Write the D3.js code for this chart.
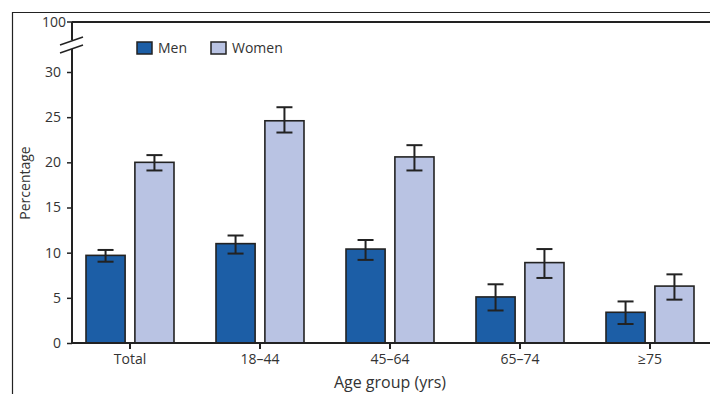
<!DOCTYPE html>
<html><head><meta charset="utf-8">
<script src="https://cdn.jsdelivr.net/npm/d3@7"></script>
<style>body{margin:0;background:#fff;} svg{display:block;font-family:"Open Sans",sans-serif;}</style>
</head><body>
<svg id="c" width="710" height="394"></svg>
<script>
const categories = ["Total", "18–44", "45–64", "65–74", "≥75"];
const seriesNames = ["Men", "Women"];
const menValues = [9.7, 11.0, 10.4, 5.1, 3.4];
const menLower = [9.0, 9.9, 9.2, 3.6, 2.1];
const menUpper = [10.3, 11.9, 11.4, 6.5, 4.6];
const womenValues = [20.0, 24.6, 20.6, 8.9, 6.3];
const womenLower = [19.1, 23.3, 19.1, 7.2, 4.8];
const womenUpper = [20.8, 26.1, 21.9, 10.4, 7.6];
const yTicks = [0, 5, 10, 15, 20, 25, 30];
const topTickLabel = "100";
const colors = ["#1c5ea6", "#b9c3e3"];

const svg = d3.select("#c");
const x0 = 72, yBase = 343;
const y = d3.scaleLinear().domain([0, 30]).range([yBase, 72]);
const x = d3.scaleBand().domain(categories).range([65, 715]).paddingInner(0).paddingOuter(0);
const xs = d3.scaleBand().domain(seriesNames).range([-44, 44]).paddingInner(0.2);

// outer frame
svg.append("line").attr("x1",12).attr("x2",710).attr("y1",12.5).attr("y2",12.5).attr("stroke","#222").attr("stroke-width",1.2);
svg.append("line").attr("x1",12.5).attr("x2",12.5).attr("y1",12).attr("y2",394).attr("stroke","#222").attr("stroke-width",1.2);

// top line (100)
svg.append("line").attr("x1",x0).attr("x2",710).attr("y1",22).attr("y2",22).attr("stroke","#222").attr("stroke-width",2);
svg.append("text").attr("x",x0-6).attr("y",22).attr("dy","0.35em").attr("text-anchor","end").attr("font-size",14).attr("fill","#333").text(topTickLabel);
svg.append("line").attr("x1",x0-5).attr("x2",x0).attr("y1",22).attr("y2",22).attr("stroke","#222").attr("stroke-width",1.5);

// y axis
const yAxis = d3.axisLeft(y).tickValues(yTicks).tickSize(5).tickPadding(6).tickFormat(d3.format("d"));
const gy = svg.append("g").attr("transform",`translate(${x0},0)`).call(yAxis);
gy.select(".domain").remove();
gy.selectAll(".tick line").attr("stroke","#222").attr("stroke-width",1.5);
gy.selectAll(".tick text").attr("font-size",14).attr("fill","#333").attr("font-family","Open Sans");
svg.append("line").attr("x1",x0).attr("x2",x0).attr("y1",22).attr("y2",40).attr("stroke","#222").attr("stroke-width",2);
svg.append("line").attr("x1",x0).attr("x2",x0).attr("y1",49).attr("y2",yBase).attr("stroke","#222").attr("stroke-width",2);
// break marks
[0, 8].forEach(o=>{
  svg.append("line").attr("x1",60).attr("x2",83).attr("y1",45+o).attr("y2",37+o).attr("stroke","#222").attr("stroke-width",1.5);
});

// bars
const data = categories.map((c,i)=>[
  {cat:c, s:"Men", v:menValues[i], lo:menLower[i], hi:menUpper[i], col:colors[0]},
  {cat:c, s:"Women", v:womenValues[i], lo:womenLower[i], hi:womenUpper[i], col:colors[1]}
]).flat();
const cx = d => x(d.cat) + x.bandwidth()/2;
const g = svg.append("g");
g.selectAll("rect").data(data).join("rect")
  .attr("x", d => cx(d) + xs(d.s))
  .attr("width", xs.bandwidth())
  .attr("y", d => y(d.v))
  .attr("height", d => yBase - y(d.v))
  .attr("fill", d => d.col).attr("stroke","#222").attr("stroke-width",1.6);
const eb = svg.append("g").attr("stroke","#222").attr("stroke-width",2);
data.forEach(d=>{
  const m = cx(d) + xs(d.s) + xs.bandwidth()/2;
  eb.append("line").attr("x1",m).attr("x2",m).attr("y1",y(d.lo)).attr("y2",y(d.hi));
  eb.append("line").attr("x1",m-8).attr("x2",m+8).attr("y1",y(d.lo)).attr("y2",y(d.lo));
  eb.append("line").attr("x1",m-8).attr("x2",m+8).attr("y1",y(d.hi)).attr("y2",y(d.hi));
});

// x axis
const gx = svg.append("g").attr("transform",`translate(0,${yBase})`).call(d3.axisBottom(x).tickSize(6).tickPadding(5));
gx.select(".domain").remove();
svg.append("line").attr("x1",x0-1).attr("x2",710).attr("y1",yBase).attr("y2",yBase).attr("stroke","#222").attr("stroke-width",2);
gx.selectAll(".tick line").attr("stroke","#222").attr("stroke-width",2);
gx.selectAll(".tick text").attr("font-size",14).attr("fill","#333").attr("font-family","Open Sans");

// axis titles
svg.append("text").attr("x",390).attr("y",388).attr("text-anchor","middle").attr("font-size",16).attr("fill","#333").text("Age group (yrs)");
svg.append("text").attr("transform","translate(30,183) rotate(-90)").attr("text-anchor","middle").attr("font-size",14).attr("fill","#333").text("Percentage");

// legend
const lg = svg.append("g");
const legX = [137, 211];
seriesNames.forEach((s,i)=>{
  lg.append("rect").attr("x",legX[i]).attr("y",42).attr("width",15).attr("height",12).attr("fill",colors[i]).attr("stroke","#222").attr("stroke-width",1.5);
  lg.append("text").attr("x",legX[i]+21).attr("y",48).attr("dy","0.35em").attr("font-size",14).attr("fill","#333").text(s);
});
</script>
</body></html>
